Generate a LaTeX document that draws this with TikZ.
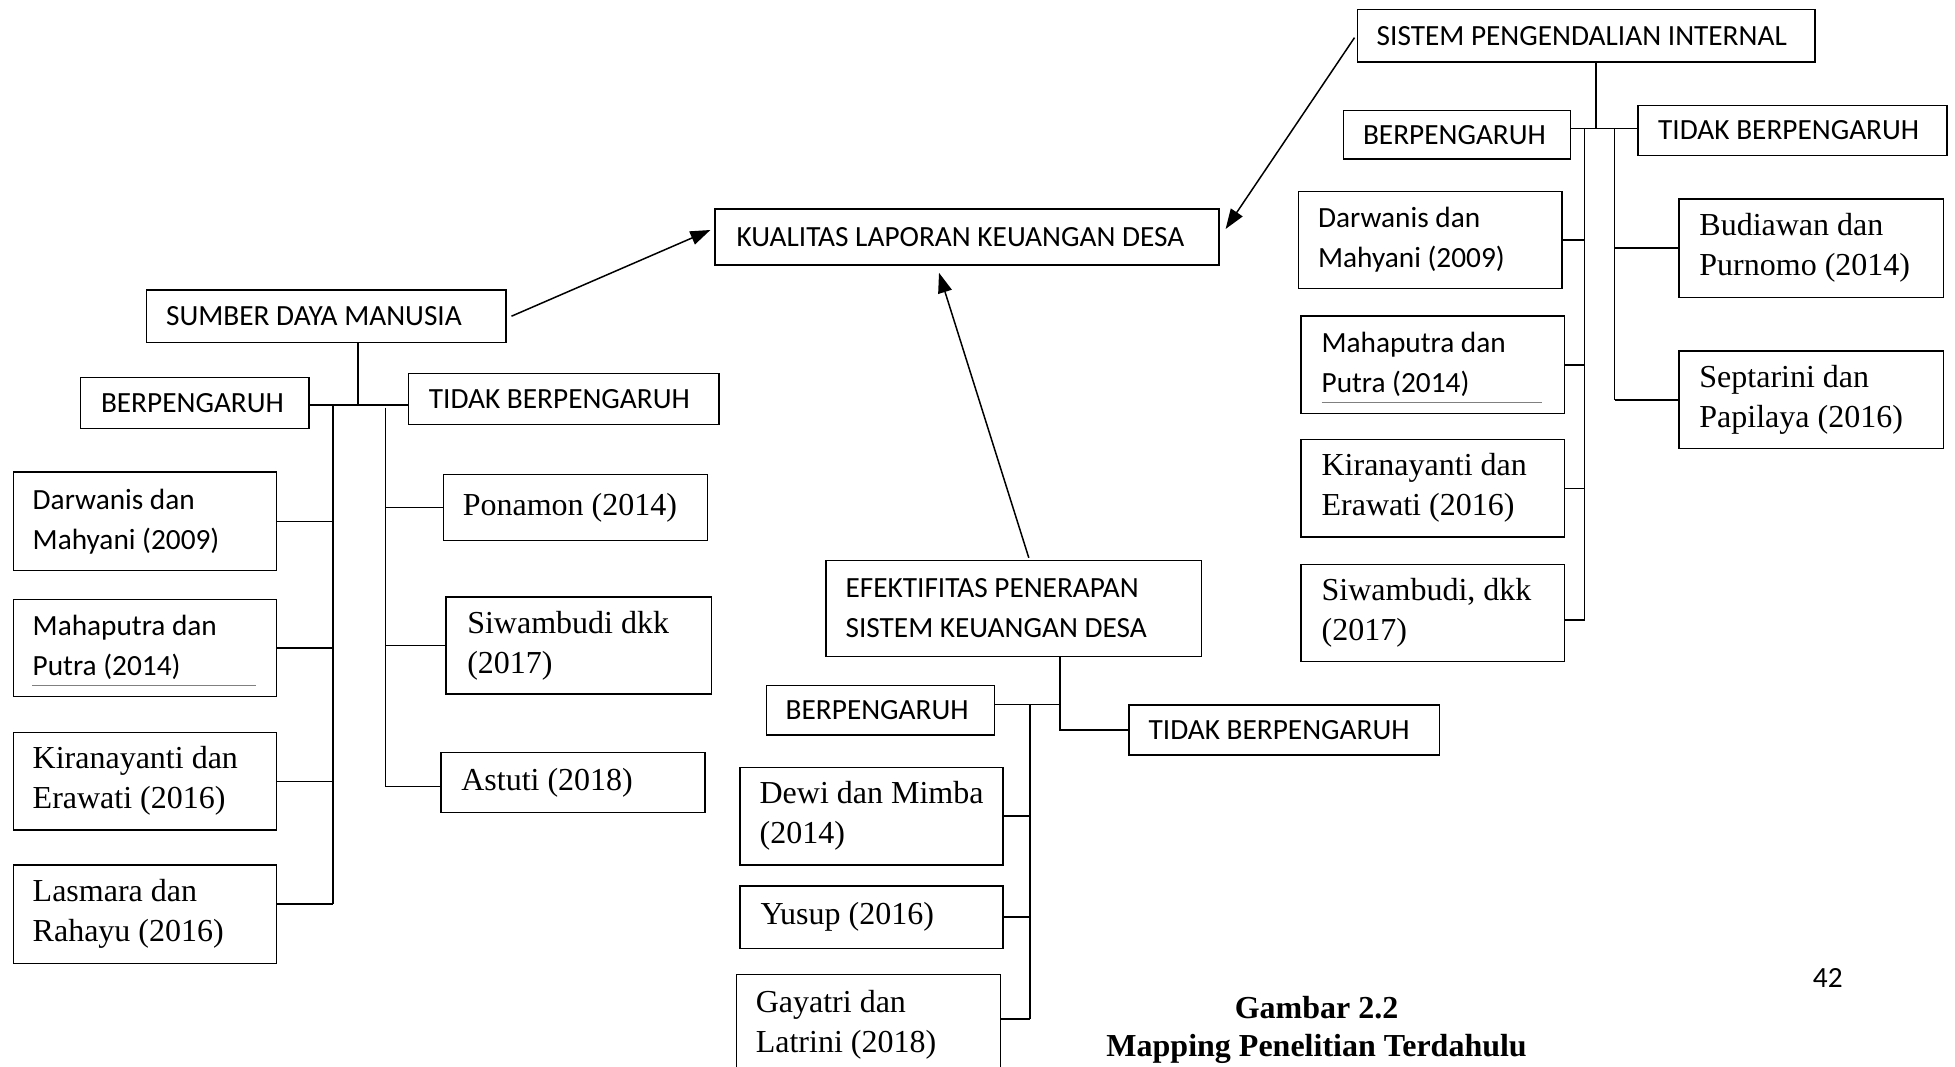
\documentclass[tikz,border=0pt]{standalone}
\usepackage{fontspec}
\setmainfont{Liberation Serif}
\newfontfamily\calibri{Carlito}
\usetikzlibrary{arrows.meta}
\newcommand\sfz{\calibri\fontsize{29.3pt}{40pt}\selectfont}
\newcommand\rmz{\rmfamily\fontsize{32pt}{40pt}\selectfont}
\newcommand\bx[8]{%
  \pgfmathsetmacro\bxw{#4-#2}\pgfmathsetmacro\bxh{#5-#3}%
  \node[box, minimum width=\bxw pt, minimum height=\bxh pt] (#1) at (#2,#3) {};
  \node[btext, font=#7] (#1t) at ([xshift=#6pt]#1.west) {#8};}
\begin{document}
\begin{tikzpicture}[x=1pt,y=-1pt,
  box/.style={draw, line width=1.5pt, anchor=north west, inner sep=0pt},
  btext/.style={anchor=west, align=left, inner sep=0pt},
  ln/.style={line width=1.5pt},
  arr/.style={line width=1.5pt, -{Triangle[length=20pt,width=14pt]}},
  uline/.style={line width=0.8pt, gray}]
\useasboundingbox (0,0) rectangle (1955,1067);
\fill[white] (0,0) rectangle (1955,1067);

% main nodes
\bx{kual}{714.4}{208.2}{1218.1}{264.3}{22}{\sfz}{KUALITAS LAPORAN KEUANGAN DESA}
\bx{spi}{1356.5}{8.7}{1814.1}{61.1}{20}{\sfz}{SISTEM PENGENDALIAN INTERNAL}
\bx{sdm}{145.9}{289.3}{505}{341.6}{20}{\sfz}{SUMBER DAYA MANUSIA}
\bx{ef}{825.4}{559.8}{1200.7}{655.8}{20}{\sfz}{EFEKTIFITAS PENERAPAN\\SISTEM KEUANGAN DESA}

% arrows
\draw[arr] ([xshift=5pt]sdm.east) -- ([xshift=-4pt,yshift=7pt]kual.west);
\draw[arr] ([xshift=-2pt,yshift=-2pt]spi.west) -- ([xshift=6pt,yshift=8pt]kual.east);
\draw[arr] ([xshift=15pt,yshift=2pt]ef.north) -- ([xshift=-28pt,yshift=-7pt]kual.south);

% SDM subtree
\bx{sb}{79.8}{376.5}{308}{427.6}{21}{\sfz}{BERPENGARUH}
\bx{st}{407.7}{372.8}{718.2}{423.9}{21}{\sfz}{TIDAK BERPENGARUH}
\bx{sd1}{12.5}{471.3}{275.5}{569.8}{20}{\sfz}{Darwanis dan\\Mahyani (2009)}
\bx{sd2}{12.5}{598.5}{275.5}{695.7}{20}{\sfz}{Mahaputra dan\\Putra (2014)}
\bx{sd3}{12.5}{731.9}{275.5}{829.1}{20}{\rmz}{Kiranayanti dan\\Erawati (2016)}
\bx{sd4}{12.5}{864}{275.5}{962.5}{20}{\rmz}{Lasmara dan\\Rahayu (2016)}
\bx{sr1}{442.6}{473.8}{706.9}{539.9}{20}{\rmz}{Ponamon (2014)}
\bx{sr2}{445.1}{596}{710.7}{693.2}{22}{\rmz}{Siwambudi dkk\\(2017)}
\bx{sr3}{440.1}{751.8}{704.4}{811.7}{21}{\rmz}{Astuti (2018)}
\coordinate (sU1) at (32.4,685.7);
\coordinate (sU2) at (255.6,685.7);
\draw[uline] (sU1) -- (sU2);

\coordinate (sS) at (357.8,405.2);
\coordinate (sL) at (332.9,405.2);
\coordinate (sR) at (385.3,407.7);
\draw[ln] (sdm.south -| sS) -- (sS);
\draw[ln] (sb.east |- sS) -- (st.west |- sS);
\draw[ln] (sL) -- ([yshift=10pt]sd4.east -| sL);
\draw[ln] (sR) -- ([yshift=-4pt]sr3.west -| sR);
\foreach \n in {sd1,sd2,sd3} \draw[ln] (\n.east) -- (\n.east -| sL);
\draw[ln] ([yshift=10pt]sd4.east) -- ([yshift=10pt]sd4.east -| sL);
\foreach \n in {sr1,sr2} \draw[ln] (\n.west) -- (\n.west -| sR);
\draw[ln] ([yshift=-4pt]sr3.west) -- ([yshift=-4pt]sr3.west -| sR);

% Efektifitas subtree
\bx{eb}{765.5}{684.5}{993.7}{734.4}{20}{\sfz}{BERPENGARUH}
\bx{et}{1128.4}{704.4}{1438.8}{754.3}{20}{\sfz}{TIDAK BERPENGARUH}
\bx{e1}{739.4}{766.8}{1002.4}{864}{20}{\rmz}{Dewi dan Mimba\\(2014)}
\bx{e2}{739.4}{885.2}{1002.4}{947.6}{21}{\rmz}{Yusup (2016)}
\bx{e3}{735.6}{973.8}{999.9}{1075}{20}{\rmz}{Gayatri dan\\Latrini (2018)}
\coordinate (eS) at (1059.8,704.4);
\coordinate (eL) at (1029.9,704.4);
\draw[ln] (ef.south -| eS) -- (eS |- et.west) -- (et.west);
\draw[ln] (eb.east |- eS) -- (eS);
\draw[ln] (eL) -- ([yshift=6pt]e3.east -| eL);
\foreach \n in {e1,e2} \draw[ln] (\n.east) -- (\n.east -| eL);
\draw[ln] ([yshift=6pt]e3.east) -- ([yshift=6pt]e3.east -| eL);

% SPI subtree
\bx{pb}{1342.8}{109.7}{1569.7}{158.3}{20}{\sfz}{BERPENGARUH}
\bx{pt}{1637}{104.7}{1946.3}{154.6}{21}{\sfz}{TIDAK BERPENGARUH}
\bx{pd1}{1297.9}{190.8}{1561}{288}{20}{\sfz}{Darwanis dan\\Mahyani (2009)}
\bx{pd2}{1300.4}{315.4}{1563.5}{412.7}{21}{\sfz}{Mahaputra dan\\Putra (2014)}
\bx{pd3}{1300.4}{438.9}{1563.5}{536.1}{21}{\rmz}{Kiranayanti dan\\Erawati (2016)}
\bx{pd4}{1300.4}{563.6}{1563.5}{660.8}{21}{\rmz}{Siwambudi, dkk\\(2017)}
\bx{pr1}{1678.2}{198.2}{1942.5}{296.7}{21}{\rmz}{Budiawan dan\\Purnomo (2014)}
\bx{pr2}{1678.2}{350.4}{1942.5}{447.6}{21}{\rmz}{Septarini dan\\Papilaya (2016)}
\coordinate (pU1) at (1321.6,402.7);
\coordinate (pU2) at (1542.3,402.7);
\draw[uline] (pU1) -- (pU2);

\coordinate (pS) at (1595.9,128.4);
\coordinate (pL) at (1584.7,128.4);
\coordinate (pR) at (1614.6,128.4);
\draw[ln] (spi.south -| pS) -- (pS);
\draw[ln] (pb.east |- pS) -- (pt.west |- pS);
\draw[ln] (pL) -- ([yshift=-7pt]pd4.east -| pL);
\draw[ln] (pR) -- (pr2.west -| pR);
\foreach \n in {pd1,pd2,pd3} \draw[ln] (\n.east) -- (\n.east -| pL);
\draw[ln] ([yshift=-7pt]pd4.east) -- ([yshift=-7pt]pd4.east -| pL);
\foreach \n in {pr1,pr2} \draw[ln] (\n.west) -- (\n.west -| pR);

% caption and page number
\node[font=\rmz\bfseries] (cap1) at (1316.6,1007.4) {Gambar 2.2};
\node[font=\rmz\bfseries] (cap2) at (1316.6,1048.6) {Mapping Penelitian Terdahulu};
\node[font=\sfz] (pg) at (1827.8,977.5) {42};
\end{tikzpicture}
\end{document}
